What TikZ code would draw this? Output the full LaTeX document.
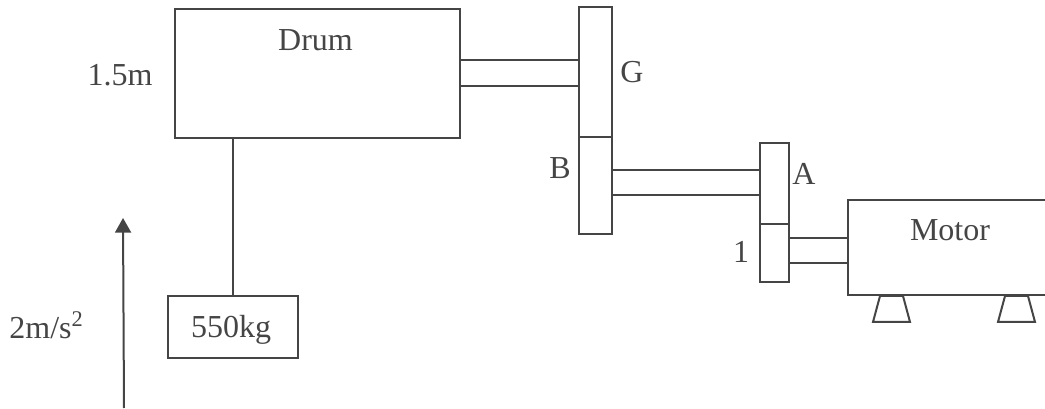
\documentclass[tikz,border=0pt]{standalone}
\usepackage{fontspec}
\setmainfont{Liberation Serif}
\usetikzlibrary{arrows.meta,positioning,calc}
\definecolor{ink}{gray}{0.27}
\tikzset{
    part/.style={rectangle,draw=ink,line width=1.5pt,inner sep=0pt,outer sep=0pt,text=ink},
    lbl/.style={inner sep=0pt,text=ink,font=\fontsize{24}{28}\selectfont},
    line/.style={draw=ink,line width=1.5pt},
    pull/.style={-{Triangle[width=12pt,length=11pt]},draw=ink,fill=ink,line width=1.5pt}
}
\begin{document}
\begin{tikzpicture}[x=0.75pt,y=-0.75pt]

    \useasboundingbox (0,0) rectangle (1045,409);

    \node[part,minimum width=214pt,minimum height=97pt] (drum) at (317.5,73.5) {};
    \node[part,minimum width=24.75pt,minimum height=97.5pt] (gear G) at (595,72) {};
    \node[part,minimum width=24.75pt,minimum height=72.75pt,below=0pt of gear G] (gear B) {};
    \node[part,minimum width=21.75pt,minimum height=60.75pt] (gear A) at (774.5,183.5) {};
    \node[part,minimum width=21.75pt,minimum height=43.5pt,below=0pt of gear A] (gear 1) {};
    \node[part,minimum width=160pt,minimum height=71.25pt] (motor) at (955,248) {};
    \node[part,minimum width=97.5pt,minimum height=46.5pt] (load) at (233,327) {};

    % shafts
    \draw[line] ([yshift=9.75pt]drum.east) -- ([yshift=9.75pt]drum.east -| gear G.west);
    \draw[line] ([yshift=-9.5pt]drum.east) -- ([yshift=-9.5pt]drum.east -| gear G.west);
    \coordinate (shaft B) at ($(gear B.east)+(0,-3)$);
    \draw[line] ([yshift=9.4pt]shaft B) -- ([yshift=9.4pt]shaft B -| gear A.west);
    \draw[line] ([yshift=-9.4pt]shaft B) -- ([yshift=-9.4pt]shaft B -| gear A.west);
    \draw[line] ([yshift=11.25pt]gear 1.east) -- ([yshift=11.25pt]gear 1.east -| motor.west);
    \draw[line] ([yshift=-7.5pt]gear 1.east) -- ([yshift=-7.5pt]gear 1.east -| motor.west);

    % rope
    \draw[line] (drum.south -| load.north) -- (load.north);

    % feet
    \coordinate (foot 1) at (891.5,296);
    \coordinate (foot 2) at (1016.5,296);
    \foreach \foot in {foot 1,foot 2}
        \draw[line] ($(\foot)+(-11.5,0)$) -- ($(\foot)+(11.5,0)$) -- ($(\foot)+(18.5,26)$)
            -- ($(\foot)+(-18.5,26)$) -- cycle;

    % acceleration
    \coordinate (arrow end) at (124,408);
    \coordinate (arrow tip) at (123,218);
    \draw[pull] (arrow end) -- (arrow tip);

    \node[lbl] (drum text) at (315.5,40) {Drum};
    \node[lbl] (motor text) at (950,230) {Motor};
    \node[lbl] (load text) at (231,330) {550kg};
    \node[lbl] (dia text) at (120,75) {1.5m};
    \node[lbl] (acc text) at (46.5,325) {2m/s\textsuperscript{2}};
    \node[lbl] (G text) at (632,72) {G};
    \node[lbl] (B text) at (560,168) {B};
    \node[lbl] (A text) at (804,174) {A};
    \node[lbl] (one text) at (741,252) {1};

\end{tikzpicture}
\end{document}
